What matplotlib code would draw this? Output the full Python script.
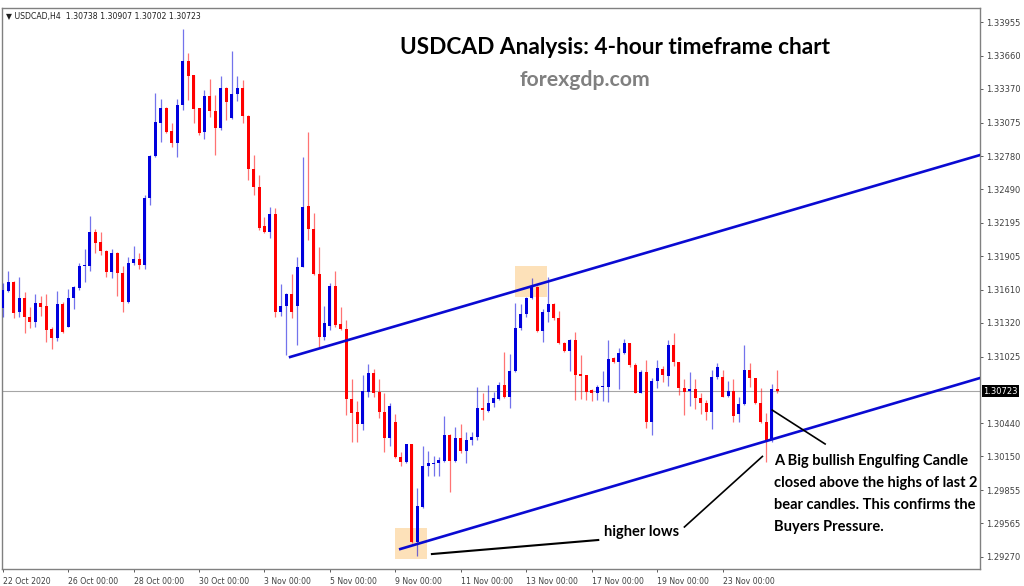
import numpy as np
import matplotlib.pyplot as plt
from matplotlib.patches import Rectangle

# USDCAD H4 candles (22 Oct - 24 Nov 2020)
opens = [1.31450, 1.31599, 1.31678, 1.31415, 1.31538, 1.31371, 1.31327, 1.31494, 1.31468, 1.31266,
         1.31187, 1.31485, 1.31283, 1.31538, 1.31625, 1.31818, 1.31818, 1.32116, 1.32028, 1.31949,
         1.31765, 1.31932, 1.31757, 1.31503, 1.31844, 1.31879, 1.31827, 1.32414, 1.32781, 1.33071,
         1.33202, 1.33001, 1.32895, 1.33228, 1.33614, 1.33491, 1.33202, 1.32992, 1.33307, 1.33176,
         1.33027, 1.33377, 1.33114, 1.33325, 1.33377, 1.33132, 1.32668, 1.32510, 1.32168, 1.32116,
         1.32273, 1.31415, 1.31468, 1.31573, 1.31468, 1.31809, 1.32343, 1.32142, 1.31748, 1.31196,
         1.31292, 1.31643, 1.31310, 1.31266, 1.30653, 1.30539, 1.30434, 1.30714, 1.30881, 1.30714,
         1.30539, 1.30311, 1.30451, 1.30145, 1.30101, 1.30259, 1.29400, 1.29707, 1.30066, 1.30083,
         1.30092, 1.30110, 1.30337, 1.30110, 1.30311, 1.30197, 1.30294, 1.30320, 1.30574, 1.30548,
         1.30618, 1.30653, 1.30775, 1.30670, 1.30898, 1.31275, 1.31397, 1.31538, 1.31634, 1.31248,
         1.31415, 1.31485, 1.31362, 1.31143, 1.31073, 1.31170, 1.30872, 1.30863, 1.30732, 1.30705,
         1.30758, 1.30758, 1.31012, 1.30977, 1.31056, 1.31143, 1.30951, 1.30705, 1.30889, 1.30451,
         1.30810, 1.30916, 1.30854, 1.31126, 1.30977, 1.30749, 1.30723, 1.30740, 1.30662, 1.30618,
         1.30539, 1.30846, 1.30846, 1.30679, 1.30723, 1.30521, 1.30609, 1.30907, 1.30837, 1.30618,
         1.30451, 1.30294, 1.30738]
highs = [1.31669, 1.31774, 1.31686, 1.31722, 1.31590, 1.31459, 1.31573, 1.31555, 1.31573, 1.31283,
         1.31599, 1.31503, 1.31616, 1.31643, 1.31844, 1.31967, 1.32256, 1.32142, 1.32116, 1.31958,
         1.31967, 1.31940, 1.31818, 1.31897, 1.31993, 1.31932, 1.32440, 1.32790, 1.33333, 1.33281,
         1.33210, 1.33071, 1.33281, 1.33894, 1.33684, 1.33491, 1.33202, 1.33360, 1.33456, 1.33316,
         1.33482, 1.33386, 1.33701, 1.33482, 1.33447, 1.33141, 1.32790, 1.32615, 1.32247, 1.32335,
         1.32326, 1.31660, 1.31581, 1.31748, 1.31897, 1.32773, 1.32992, 1.32282, 1.31984, 1.31468,
         1.31669, 1.31774, 1.31459, 1.31345, 1.30828, 1.30635, 1.30863, 1.30959, 1.30916, 1.30828,
         1.30705, 1.30618, 1.30521, 1.30189, 1.30259, 1.30259, 1.29873, 1.30241, 1.30197, 1.30154,
         1.30145, 1.30504, 1.30346, 1.30408, 1.30434, 1.30364, 1.30364, 1.30758, 1.30705, 1.30775,
         1.30714, 1.30802, 1.31065, 1.31047, 1.31494, 1.31485, 1.31546, 1.31713, 1.31643, 1.31441,
         1.31722, 1.31494, 1.31424, 1.31152, 1.31178, 1.31240, 1.31038, 1.30863, 1.30740, 1.30775,
         1.30898, 1.31170, 1.31021, 1.31100, 1.31178, 1.31143, 1.30968, 1.30907, 1.30994, 1.30837,
         1.30994, 1.30942, 1.31170, 1.31231, 1.30977, 1.30828, 1.30889, 1.30828, 1.30705, 1.30644,
         1.30907, 1.30968, 1.30907, 1.30810, 1.30828, 1.30670, 1.31126, 1.30968, 1.30837, 1.30749,
         1.30530, 1.30784, 1.30907]
lows = [1.31371, 1.31590, 1.31362, 1.31371, 1.31231, 1.31275, 1.31283, 1.31380, 1.31152, 1.31091,
        1.31161, 1.31231, 1.31283, 1.31441, 1.31608, 1.31678, 1.31774, 1.31932, 1.31914, 1.31722,
        1.31713, 1.31555, 1.31415, 1.31494, 1.31827, 1.31792, 1.31792, 1.32352, 1.32773, 1.32904,
        1.32983, 1.32860, 1.32773, 1.33184, 1.33272, 1.33071, 1.32966, 1.32930, 1.33123, 1.32790,
        1.33010, 1.33097, 1.33106, 1.33263, 1.33071, 1.32571, 1.32440, 1.32133, 1.32107, 1.32063,
        1.31371, 1.31380, 1.31038, 1.31362, 1.31126, 1.31809, 1.32046, 1.31739, 1.31108, 1.31170,
        1.31257, 1.31283, 1.31257, 1.30513, 1.30276, 1.30276, 1.30381, 1.30670, 1.30670, 1.30486,
        1.30189, 1.30241, 1.30136, 1.30066, 1.30092, 1.29391, 1.29277, 1.29698, 1.29978, 1.29978,
        1.29978, 1.30101, 1.29838, 1.30101, 1.30180, 1.30092, 1.30250, 1.30294, 1.30469, 1.30539,
        1.30583, 1.30644, 1.30662, 1.30574, 1.30889, 1.31257, 1.31371, 1.31529, 1.31240, 1.31152,
        1.31327, 1.31345, 1.31135, 1.31065, 1.30898, 1.30644, 1.30653, 1.30644, 1.30635, 1.30644,
        1.30635, 1.30627, 1.30968, 1.30740, 1.31047, 1.30933, 1.30705, 1.30705, 1.30399, 1.30337,
        1.30749, 1.30802, 1.30767, 1.30942, 1.30688, 1.30513, 1.30591, 1.30565, 1.30521, 1.30469,
        1.30390, 1.30828, 1.30670, 1.30670, 1.30451, 1.30451, 1.30600, 1.30758, 1.30609, 1.30443,
        1.30101, 1.30276, 1.30702]
closes = [1.31608, 1.31678, 1.31406, 1.31538, 1.31371, 1.31327, 1.31494, 1.31459, 1.31257, 1.31187,
          1.31485, 1.31240, 1.31538, 1.31634, 1.31818, 1.31827, 1.32116, 1.32019, 1.31949, 1.31765,
          1.31932, 1.31757, 1.31503, 1.31844, 1.31879, 1.31827, 1.32414, 1.32781, 1.33079, 1.33202,
          1.32992, 1.32895, 1.33228, 1.33614, 1.33482, 1.33193, 1.32983, 1.33307, 1.33176, 1.33027,
          1.33377, 1.33255, 1.33325, 1.33377, 1.33132, 1.32668, 1.32510, 1.32151, 1.32116, 1.32273,
          1.31415, 1.31468, 1.31573, 1.31415, 1.31809, 1.32335, 1.32142, 1.31748, 1.31196, 1.31318,
          1.31643, 1.31301, 1.31266, 1.30653, 1.30530, 1.30434, 1.30723, 1.30881, 1.30705, 1.30539,
          1.30311, 1.30591, 1.30145, 1.30101, 1.30259, 1.29400, 1.29715, 1.30066, 1.30092, 1.30092,
          1.30118, 1.30337, 1.30110, 1.30311, 1.30197, 1.30294, 1.30320, 1.30574, 1.30556, 1.30618,
          1.30662, 1.30775, 1.30670, 1.30898, 1.31275, 1.31397, 1.31538, 1.31634, 1.31248, 1.31415,
          1.31485, 1.31362, 1.31143, 1.31073, 1.31170, 1.30863, 1.30854, 1.30714, 1.30705, 1.30758,
          1.30767, 1.31003, 1.30977, 1.31056, 1.31143, 1.30951, 1.30705, 1.30889, 1.30451, 1.30810,
          1.30924, 1.30863, 1.31126, 1.30977, 1.30749, 1.30714, 1.30740, 1.30662, 1.30618, 1.30539,
          1.30846, 1.30933, 1.30670, 1.30723, 1.30504, 1.30609, 1.30907, 1.30837, 1.30618, 1.30451,
          1.30294, 1.30740, 1.30723]

date_ticks = [0, 12, 24, 36, 48, 60, 72, 84, 96, 108, 120, 132]
date_labels = ['22 Oct 2020', '26 Oct 00:00', '28 Oct 00:00', '30 Oct 00:00', '3 Nov 00:00',
               '5 Nov 00:00', '9 Nov 00:00', '11 Nov 00:00', '13 Nov 00:00', '17 Nov 00:00',
               '19 Nov 00:00', '23 Nov 00:00']
price_ticks = [1.33955, 1.33660, 1.33370, 1.33075, 1.32780, 1.32490, 1.32195, 1.31905,
               1.31610, 1.31320, 1.31025, 1.30440, 1.30150, 1.29855, 1.29565, 1.29270]
last_price = 1.30723

# trend lines and highlight zones (bar index, price)
upper_line = [(52.7, 1.31021), (179.2, 1.32790)]
lower_line = [(72.9, 1.29339), (179.2, 1.30837)]
zones = [(71.9, 1.29251, 77.8, 1.29523), (93.9, 1.31546, 99.8, 1.31818)]

bull = '#0000dd'
bear = '#ff0000'
note_font = ['Lato', 'DejaVu Sans']

fig = plt.figure(figsize=(10.24, 5.86), dpi=100)
ax = fig.add_axes([2 / 1024, 17 / 586, 978 / 1024, 561 / 586])

x = np.arange(len(opens))
o = np.array(opens)
c = np.array(closes)
colors = [bull if cc >= oo else bear for oo, cc in zip(o, c)]

ax.vlines(x, lows, highs, colors=colors, linewidth=0.9, alpha=0.55, zorder=3)
ax.bar(x, np.maximum(np.abs(c - o), 0.00003), bottom=np.minimum(o, c),
       width=0.55, color=colors, linewidth=0, zorder=4)

for x0, y0, x1, y1 in zones:
    ax.add_patch(Rectangle((x0, y0), x1 - x0, y1 - y0, facecolor='#fde1b9',
                           edgecolor='none', zorder=1))

ax.axhline(last_price, color='#a6a6a6', linewidth=0.8, zorder=2)

for line in (upper_line, lower_line):
    (xa, ya), (xb, yb) = line
    ax.plot([xa, xb], [ya, yb], color='#0a0ad2', linewidth=1.9, zorder=5)

# pointer lines for the notes
ax.plot([141.1, 150.8], [1.30556, 1.30259], color='black', linewidth=1.2, zorder=5)
ax.plot([125.0, 139.3], [1.29532, 1.30150], color='black', linewidth=1.2, zorder=5)
ax.plot([78.7, 109.2], [1.29295, 1.29418], color='black', linewidth=1.5, zorder=5)

ax.set_xlim(-0.13, 179.2)
ax.set_ylim(1.29164, 1.34078)

ax.yaxis.tick_right()
ax.set_yticks(price_ticks)
ax.set_yticklabels([f'{p:.5f}' for p in price_ticks])
ax.set_xticks(date_ticks)
ax.set_xticklabels(date_labels, ha='left')
ax.tick_params(axis='both', labelsize=6, colors='#404040', length=2.5, width=0.6, pad=2)
ax.tick_params(axis='x', labelsize=5.6, pad=3)
for s in ax.spines.values():
    s.set_color('#808080')
    s.set_linewidth(1.0)

ax.text(1.003, last_price, f'{last_price:.5f}', transform=ax.get_yaxis_transform(),
        va='center', ha='left', fontsize=6, color='white',
        bbox=dict(boxstyle='square,pad=0.15', facecolor='black', edgecolor='none'))

ax.text(0.004, 0.993, '\u25bc USDCAD,H4  1.30738 1.30907 1.30702 1.30723', transform=ax.transAxes,
        va='top', ha='left', fontsize=5.6, color='#202020')

fig.text(615 / 1024, 1 - 48 / 586, 'USDCAD Analysis: 4-hour timeframe chart', ha='center',
         va='center', fontsize=16.3, fontweight='bold', family=note_font)
fig.text(585 / 1024, 1 - 80 / 586, 'forexgdp.com', ha='center', va='center', fontsize=15.3,
         fontweight='bold', color='#808080', family=note_font)

ax.text(141.4, 1.30170, 'A Big bullish Engulfing Candle\nclosed above the highs of last 2\n'
        'bear candles. This confirms the\nBuyers Pressure.', ha='left', va='top', fontsize=10.5,
        fontweight='bold', linespacing=1.72, family=note_font, zorder=6)
ax.text(110.2, 1.29488, 'higher lows', ha='left', va='center', fontsize=10.5,
        fontweight='bold', family=note_font, zorder=6)

fig.savefig('out.png', dpi=100)
